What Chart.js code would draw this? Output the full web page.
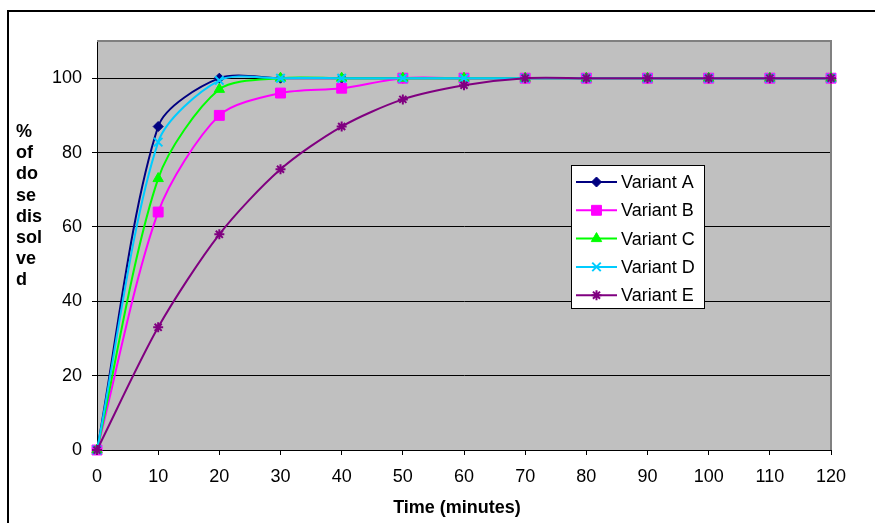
<!DOCTYPE html>
<html>
<head>
<meta charset="utf-8">
<script src="https://cdn.jsdelivr.net/npm/chart.js"></script>
<style>
html,body{margin:0;padding:0;background:#fff;}
canvas{display:block;}
</style>
</head>
<body>
<canvas id="c" width="875" height="523"></canvas>
<script>
const times = [0, 10, 20, 30, 40, 50, 60, 70, 80, 90, 100, 110, 120];
const variantA = [0, 87, 100, 100, 100, 100, 100, 100, 100, 100, 100, 100, 100];
const variantB = [0, 64, 90, 96, 97.3, 100, 100, 100, 100, 100, 100, 100, 100];
const variantC = [0, 73, 97, 100, 100, 100, 100, 100, 100, 100, 100, 100, 100];
const variantD = [0, 82.8, 99.4, 100, 100, 100, 100, 100, 100, 100, 100, 100, 100];
const variantE = [0, 33, 58, 75.5, 87, 94.3, 98.1, 100, 100, 100, 100, 100, 100];
const seriesNames = ['Variant A', 'Variant B', 'Variant C', 'Variant D', 'Variant E'];
const yTitleLines = ['%', 'of', 'do', 'se', 'dis', 'sol', 've', 'd'];
const xTitle = 'Time (minutes)';

const FONT = '"Liberation Sans", Arial, sans-serif';
const styles = [
  {color: '#000080', pointStyle: 'rectRot', radius: 5, bw: 1},
  {color: '#FF00FF', pointStyle: 'rect', radius: 7, bw: 1},
  {color: '#00FF00', pointStyle: 'triangle', radius: 6, bw: 1},
  {color: '#00CCFF', pointStyle: 'crossRot', radius: 6, bw: 2},
  {color: '#800080', pointStyle: 'star', radius: 5, bw: 2}
];
const allSeries = [variantA, variantB, variantC, variantD, variantE];

const datasets = allSeries.map((vals, i) => ({
  label: seriesNames[i],
  data: times.map((t, j) => ({x: t, y: vals[j]})),
  borderColor: styles[i].color,
  backgroundColor: styles[i].color,
  borderWidth: 2,
  pointStyle: styles[i].pointStyle,
  pointRadius: styles[i].radius,
  pointBorderWidth: styles[i].bw,
  pointBackgroundColor: styles[i].color,
  pointBorderColor: styles[i].color,
  tension: 0.28,
  order: 5 - i,
  clip: false
}));

function drawMarker(ctx, style, x, y) {
  const r = style.radius;
  ctx.save();
  ctx.fillStyle = style.color;
  ctx.strokeStyle = style.color;
  ctx.lineWidth = style.bw;
  ctx.beginPath();
  if (style.pointStyle === 'rectRot') {
    ctx.moveTo(x, y - r); ctx.lineTo(x + r, y); ctx.lineTo(x, y + r); ctx.lineTo(x - r, y); ctx.closePath();
    ctx.fill(); ctx.stroke();
  } else if (style.pointStyle === 'rect') {
    const s = r * Math.SQRT1_2;
    ctx.rect(x - s, y - s, 2 * s, 2 * s); ctx.fill(); ctx.stroke();
  } else if (style.pointStyle === 'triangle') {
    ctx.moveTo(x, y - r);
    ctx.lineTo(x + r * Math.sin(Math.PI / 3), y + r * 0.5);
    ctx.lineTo(x - r * Math.sin(Math.PI / 3), y + r * 0.5);
    ctx.closePath(); ctx.fill(); ctx.stroke();
  } else if (style.pointStyle === 'crossRot') {
    const d = r * Math.SQRT1_2;
    ctx.moveTo(x - d, y - d); ctx.lineTo(x + d, y + d);
    ctx.moveTo(x + d, y - d); ctx.lineTo(x - d, y + d);
    ctx.stroke();
  } else if (style.pointStyle === 'star') {
    const d = r * Math.SQRT1_2;
    ctx.moveTo(x - d, y - d); ctx.lineTo(x + d, y + d);
    ctx.moveTo(x + d, y - d); ctx.lineTo(x - d, y + d);
    ctx.moveTo(x, y - r); ctx.lineTo(x, y + r);
    ctx.moveTo(x - r, y); ctx.lineTo(x + r, y);
    ctx.stroke();
  }
  ctx.restore();
}

const decor = {
  id: 'decor',
  beforeDraw(chart) {
    const {ctx, chartArea: a} = chart;
    ctx.save();
    ctx.fillStyle = '#C0C0C0';
    ctx.fillRect(a.left, a.top, a.right - a.left, a.bottom - a.top);
    ctx.strokeStyle = '#000';
    ctx.lineWidth = 2;
    ctx.strokeRect(8, 11, 880, 530);
    ctx.restore();
  },
  beforeDatasetsDraw(chart) {
    const {ctx, chartArea: a} = chart;
    ctx.save();
    ctx.strokeStyle = '#808080';
    ctx.lineWidth = 2;
    ctx.beginPath();
    ctx.moveTo(a.left, a.top); ctx.lineTo(a.right, a.top); ctx.lineTo(a.right, a.bottom);
    ctx.stroke();
    ctx.restore();
  },
  afterDraw(chart) {
    const ctx = chart.ctx;
    ctx.save();
    ctx.fillStyle = '#000';
    ctx.font = 'bold 18px ' + FONT;
    ctx.textAlign = 'left';
    ctx.textBaseline = 'middle';
    yTitleLines.forEach((t, i) => ctx.fillText(t, 16, 132 + i * 21.2));
    ctx.textAlign = 'center';
    ctx.fillText(xTitle, 457, 508);
    const lx = 571, ly = 165, lw = 133, lh = 143;
    ctx.fillStyle = '#fff';
    ctx.fillRect(lx, ly, lw, lh);
    ctx.strokeStyle = '#000';
    ctx.lineWidth = 1;
    ctx.strokeRect(lx + 0.5, ly + 0.5, lw, lh);
    ctx.font = '18px ' + FONT;
    ctx.textAlign = 'left';
    seriesNames.forEach((name, i) => {
      const y = 182 + i * 28.3;
      ctx.strokeStyle = styles[i].color;
      ctx.lineWidth = 2;
      ctx.beginPath();
      ctx.moveTo(576, y); ctx.lineTo(617, y); ctx.stroke();
      drawMarker(ctx, styles[i], 596.5, y);
      ctx.fillStyle = '#000';
      ctx.fillText(name, 621, y + 1);
    });
    ctx.restore();
  }
};

new Chart(document.getElementById('c'), {
  type: 'line',
  data: {datasets},
  plugins: [decor],
  options: {
    responsive: false,
    devicePixelRatio: 1,
    animation: false,
    layout: {padding: {left: 0, right: 44, top: 41, bottom: 0}},
    plugins: {legend: {display: false}, tooltip: {enabled: false}},
    scales: {
      x: {
        type: 'linear',
        min: 0, max: 120,
        afterFit(s) { s.height = 73; },
        ticks: {stepSize: 10, color: '#000', font: {family: FONT, size: 18}, padding: 11, maxRotation: 0, autoSkip: false},
        grid: {drawOnChartArea: false, drawTicks: true, tickLength: 5, color: '#000'},
        border: {display: true, color: '#000', width: 1}
      },
      y: {
        type: 'linear',
        min: 0, max: 110,
        afterFit(s) { s.width = 97; },
        ticks: {stepSize: 20, color: '#000', font: {family: FONT, size: 18}, padding: 10,
          callback: v => (v <= 100 ? v : '')},
        grid: {
          color: c => (c.tick && c.tick.value > 100 ? 'rgba(0,0,0,0)' : '#000'),
          tickLength: 5, lineWidth: 1
        },
        border: {display: true, color: '#000', width: 1}
      }
    }
  }
});
</script>
</body>
</html>
